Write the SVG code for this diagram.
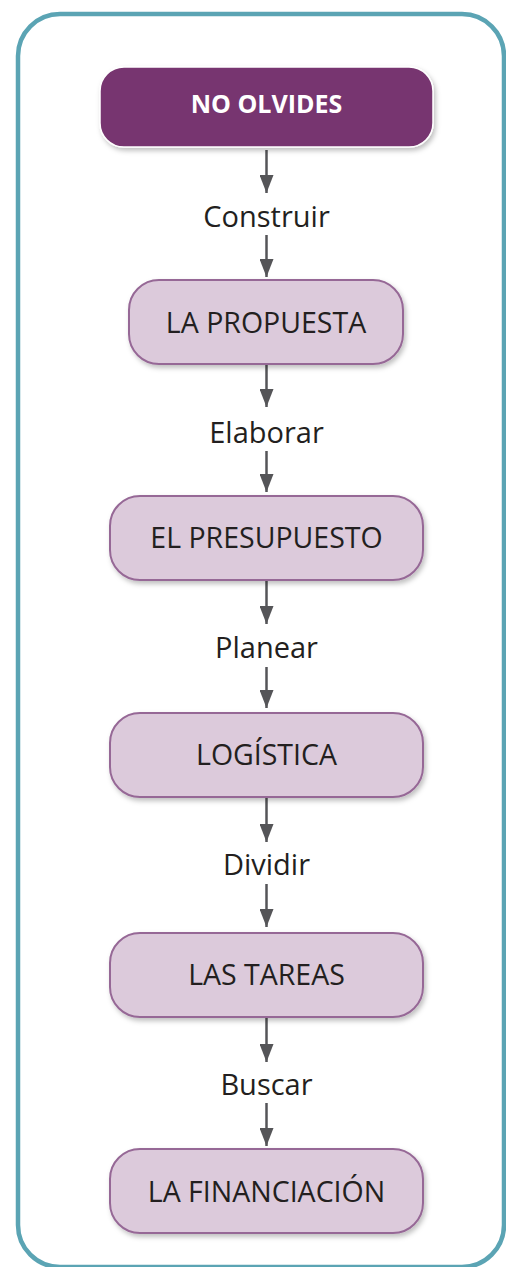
<svg xmlns="http://www.w3.org/2000/svg" width="506" height="1267" viewBox="0 0 506 1267">
<defs>
<filter id="sh" x="-10%" y="-20%" width="125%" height="150%">
<feDropShadow dx="2" dy="3" stdDeviation="2.5" flood-color="#000" flood-opacity="0.25"/>
</filter>
<marker id="ah" markerUnits="userSpaceOnUse" markerWidth="18" markerHeight="14" refX="18" refY="7" orient="auto" viewBox="0 0 18 14">
<path d="M0,0 L18,7 L0,14 z" fill="#555558"/>
</marker>
<style>
.node{fill:#dccadb;stroke:#966896;stroke-width:2;filter:url(#sh)}
.nt{font-family:"Open Sans","Noto Sans",sans-serif;font-size:28.5px;fill:#231f20;text-anchor:middle}
.lb{font-family:"Open Sans","Noto Sans",sans-serif;font-size:29px;fill:#231f20;text-anchor:middle}
.cn{stroke:#555558;stroke-width:2.5;fill:none;marker-end:url(#ah)}
</style>
</defs>
<rect x="0" y="0" width="506" height="1267" fill="#fff"/>
<rect id="frame" x="18" y="14" width="486" height="1253" rx="42" ry="42" fill="none" stroke="#5ba4b4" stroke-width="4.5"/>
<g id="connectors">
<line class="cn" x1="266.5" y1="150" x2="266.5" y2="193"/>
<line class="cn" x1="266.5" y1="235" x2="266.5" y2="277"/>
<line class="cn" x1="266.5" y1="365" x2="266.5" y2="407"/>
<line class="cn" x1="266.5" y1="451" x2="266.5" y2="492"/>
<line class="cn" x1="266.5" y1="581" x2="266.5" y2="624"/>
<line class="cn" x1="266.5" y1="667" x2="266.5" y2="708"/>
<line class="cn" x1="266.5" y1="798" x2="266.5" y2="842"/>
<line class="cn" x1="266.5" y1="884" x2="266.5" y2="927"/>
<line class="cn" x1="266.5" y1="1018" x2="266.5" y2="1062"/>
<line class="cn" x1="266.5" y1="1103" x2="266.5" y2="1146"/>
</g>
<g id="labels">
<text class="lb" x="266.5" y="227">Construir</text>
<text class="lb" x="266.5" y="443">Elaborar</text>
<text class="lb" x="266.5" y="658">Planear</text>
<text class="lb" x="266.5" y="875">Dividir</text>
<text class="lb" x="266.5" y="1095">Buscar</text>
</g>
<g id="n0">
<rect x="100" y="67" width="333" height="80" rx="24" fill="#77366f" stroke="#fff" stroke-width="1.5" filter="url(#sh)"/>
<text x="266.5" y="113" font-family="'Open Sans','Noto Sans',sans-serif" font-weight="bold" font-size="25" fill="#fff" text-anchor="middle">NO OLVIDES</text>
</g>
<g id="n1">
<rect class="node" x="129" y="280" width="274" height="84" rx="30"/>
<text class="nt" x="266" y="333">LA PROPUESTA</text>
</g>
<g id="n2">
<rect class="node" x="110" y="496" width="313" height="84" rx="30"/>
<text class="nt" x="266.5" y="548">EL PRESUPUESTO</text>
</g>
<g id="n3">
<rect class="node" x="110" y="713" width="313" height="84" rx="30"/>
<text class="nt" x="266.5" y="765">LOGÍSTICA</text>
</g>
<g id="n4">
<rect class="node" x="110" y="933" width="313" height="84" rx="30"/>
<text class="nt" x="266.5" y="985">LAS TAREAS</text>
</g>
<g id="n5">
<rect class="node" x="110" y="1149" width="313" height="84" rx="30"/>
<text class="nt" x="266.5" y="1202">LA FINANCIACIÓN</text>
</g>
</svg>
